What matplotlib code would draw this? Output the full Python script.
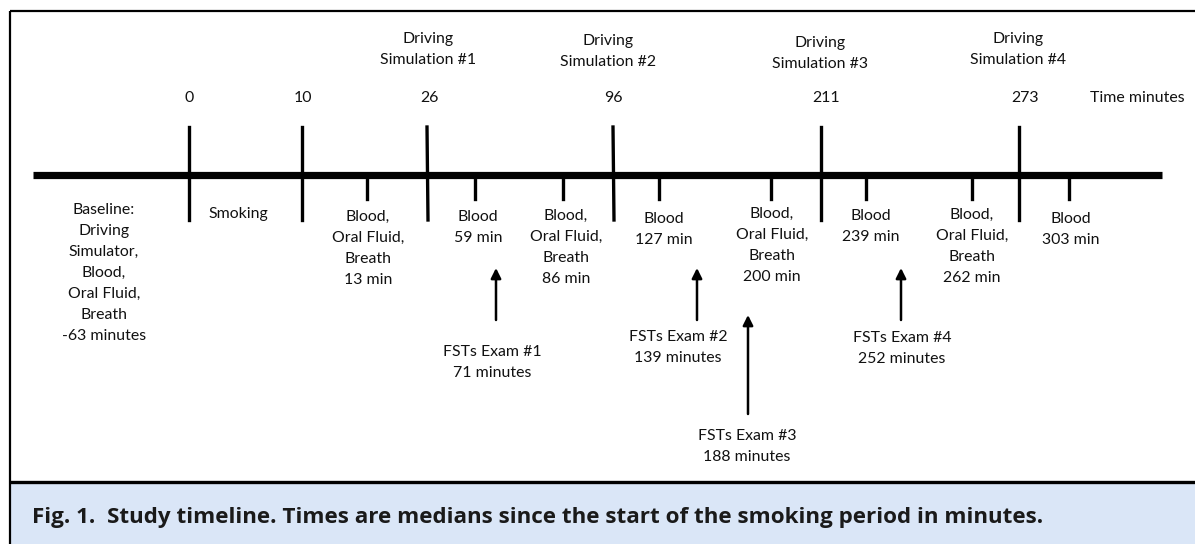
import matplotlib
matplotlib.use("Agg")
import matplotlib.pyplot as plt
from matplotlib.patches import Rectangle, FancyArrowPatch

# ---------------- data ----------------
major_times = [0, 10, 26, 96, 211, 273]
major_labels = ["0", "10", "26", "96", "211", "273"]
axis_title = "Time minutes"

sim_times = [26, 96, 211, 273]
sim_labels = ["Driving\nSimulation #1", "Driving\nSimulation #2",
              "Driving\nSimulation #3", "Driving\nSimulation #4"]

sample_times = [13, 59, 86, 127, 200, 239, 262, 303]
sample_kinds = ["Blood,\nOral Fluid,\nBreath", "Blood", "Blood,\nOral Fluid,\nBreath", "Blood",
                "Blood,\nOral Fluid,\nBreath", "Blood", "Blood,\nOral Fluid,\nBreath", "Blood"]

fst_times = [71, 139, 188, 252]
fst_labels = ["FSTs Exam #1", "FSTs Exam #2", "FSTs Exam #3", "FSTs Exam #4"]

baseline_time = -63
baseline_label = "Baseline:\nDriving\nSimulator,\nBlood,\nOral Fluid,\nBreath"
smoking_label = "Smoking"

caption = "Fig. 1.  Study timeline. Times are medians since the start of the smoking period in minutes."

# ---------------- schematic layout (pixel columns / rows) ----------------
W, H = 1195, 544
major_x = [189, 302, 427, 613, 821, 1019]
major_label_x = [189, 303, 429, 613, 826, 1025]
sim_label_x = [428, 608, 820, 1018]
sim_label_y = [38, 40, 42, 38]
sample_x = [367, 475, 563, 659, 771, 866, 972, 1069]
sample_label_x = [368, 478, 566, 664, 772, 871, 972, 1071]
sample_label_y = [216, 216, 215, 218, 213, 215, 214, 218]
fst_x = [496, 697, 748, 901]
fst_arrow_top = [268, 268, 315, 268]
fst_arrow_bot = [320, 320, 414, 320]
fst_label_x = [492, 678, 747, 902]
fst_label_y = [351, 336, 435, 337]
baseline_x, baseline_y = 104, 209
smoking_x, smoking_y = 238, 213
line_y = 175
line_x0, line_x1 = 33, 1162
LINE_STEP = 21

FONT = "Lato"
FS = 11.4
TXT = "#111111"
CAP_FONT = "Open Sans"
CAP_WIDTH = 1012  # target caption width in pixels

fig = plt.figure(figsize=(W / 100, H / 100), dpi=100)
ax = fig.add_axes([0, 0, 1, 1])
ax.set_xlim(0, W)
ax.set_ylim(H, 0)
ax.axis("off")


def lines_text(x, y_first, s, size=FS, **kw):
    for i, ln in enumerate(s.split("\n")):
        ax.text(x, y_first + i * LINE_STEP + 5, ln, ha="center", va="baseline",
                fontsize=size, family=FONT, color=TXT, **kw)


# frame and caption band
ax.add_patch(Rectangle((10, 482), W - 10, H - 482, facecolor="#dae6f7", edgecolor="none", zorder=0))
ax.plot([10, W], [11, 11], color="black", lw=1.6, solid_capstyle="butt")
ax.plot([10, 10], [11, H], color="black", lw=1.6, solid_capstyle="butt")
ax.plot([10, W], [482, 482], color="black", lw=2.4, solid_capstyle="butt")
cap = ax.text(32, 517, caption, ha="left", va="center", fontsize=14, family=CAP_FONT,
              fontweight="bold", color="#1a1a1a")
renderer = fig.canvas.get_renderer()
w = cap.get_window_extent(renderer).width
cap.set_fontsize(14 * CAP_WIDTH / w)

# main time line
ax.plot([line_x0, line_x1], [line_y, line_y], color="black", lw=5.2, solid_capstyle="butt", zorder=3)

# major ticks and labels
for t, xp, lx, lab in zip(major_times, major_x, major_label_x, major_labels):
    ax.plot([xp, xp + (1 if t in (26, 96) else 0)], [127, 220], color="black", lw=2.4, zorder=3)
    lines_text(lx, 97, lab)
lines_text(1137, 97, axis_title)

# driving simulations
for t, lab, lx, ly in zip(sim_times, sim_labels, sim_label_x, sim_label_y):
    lines_text(lx, ly, lab)

# sample ticks and labels
for t, xp, lx, ly, kind in zip(sample_times, sample_x, sample_label_x, sample_label_y, sample_kinds):
    ax.plot([xp, xp], [line_y, 199], color="black", lw=2.4, zorder=3)
    lines_text(lx, ly, f"{kind}\n{t} min")

# FST arrows
for t, xp, top, bot, lx, ly, lab in zip(fst_times, fst_x, fst_arrow_top, fst_arrow_bot,
                                        fst_label_x, fst_label_y, fst_labels):
    ax.add_patch(FancyArrowPatch((xp, bot), (xp, top), arrowstyle="-|>,head_length=6,head_width=3",
                                 mutation_scale=1, color="black", lw=1.8, shrinkA=0, shrinkB=0))
    lines_text(lx, ly, f"{lab}\n{t} minutes")

# baseline & smoking
lines_text(baseline_x, baseline_y, f"{baseline_label}\n{baseline_time} minutes")
lines_text(smoking_x, smoking_y, smoking_label)

fig.savefig("out.png", dpi=100)
